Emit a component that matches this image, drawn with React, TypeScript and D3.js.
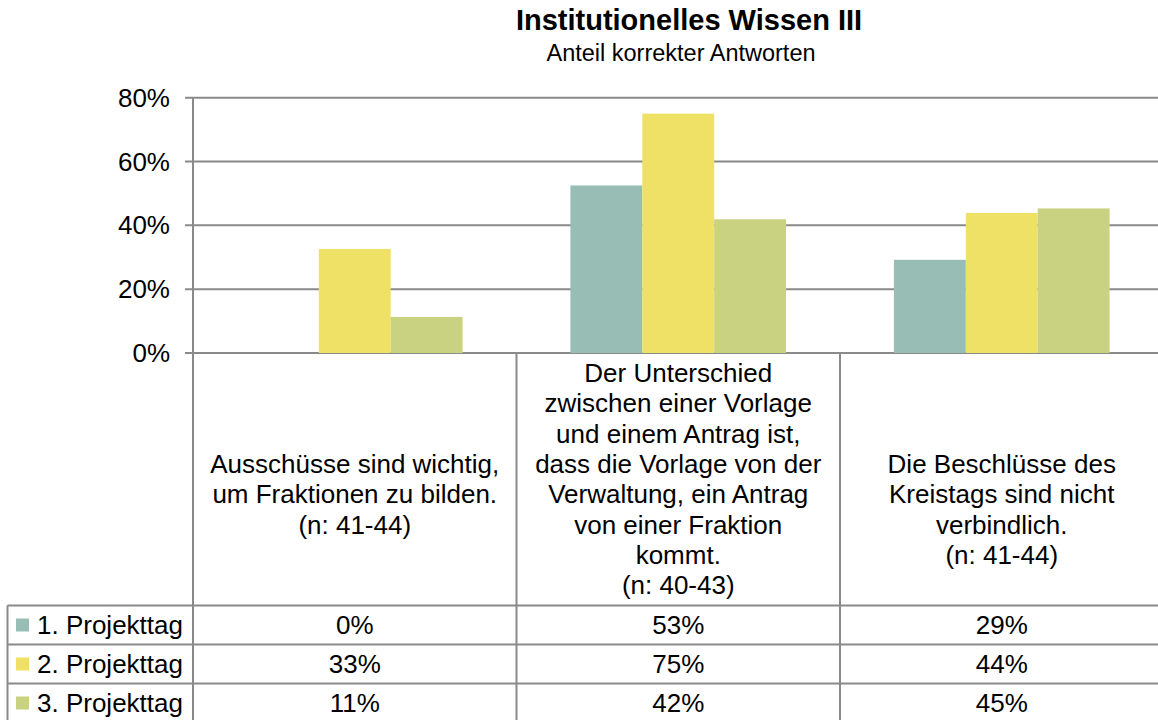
import { useEffect, useRef } from 'react';
import { select, scaleBand, scaleLinear } from 'd3';

// category labels, already broken into lines as in the original
const categoryLines = [
  ['Ausschüsse sind wichtig,', 'um Fraktionen zu bilden.', '(n: 41-44)'],
  [
    'Der Unterschied',
    'zwischen einer Vorlage',
    'und einem Antrag ist,',
    'dass die Vorlage von der',
    'Verwaltung, ein Antrag',
    'von einer Fraktion',
    'kommt.',
    '(n: 40-43)'
  ],
  ['Die Beschlüsse des', 'Kreistags sind nicht', 'verbindlich.', '(n: 41-44)']
];
const categoryKeys = ['c1', 'c2', 'c3'];
// which text row the first label line sits on
const labelStartRow = [3, 0, 3];

const seriesNames = ['1. Projekttag', '2. Projekttag', '3. Projekttag'];
const seriesColors = ['#97bdb4', '#efe066', '#c8d280'];
const day1 = [0, 52.5, 29.2];
const day2 = [32.6, 75, 43.9];
const day3 = [11.3, 41.9, 45.3];
const seriesValues = [day1, day2, day3];

const yTicks = [0, 20, 40, 60, 80];

const W = 1158;
const H = 720;
const FONT = '"Liberation Sans", Arial, sans-serif';
const GRID = '#8a8a8a';

const App = () => {
  const svgRef = useRef(null);

  useEffect(() => {
    const svg = select(svgRef.current);
    svg.selectAll('*').remove();

    const left = 193;
    const right = 1163.5;
    const yScale = scaleLinear().domain([0, 80]).range([353, 97.7]);
    const x0 = scaleBand().domain(categoryKeys).range([left, right]).padding(0);
    const x1 = scaleBand()
      .domain(seriesNames)
      .range([0, x0.bandwidth()])
      .paddingInner(0)
      .paddingOuter(0.75);
    const rowScale = scaleBand().domain(seriesNames).range([605.5, 722.5]);

    // title
    svg
      .append('text')
      .attr('x', 689)
      .attr('y', 30)
      .attr('text-anchor', 'middle')
      .attr('font-family', FONT)
      .attr('font-weight', 'bold')
      .attr('font-size', 29)
      .text('Institutionelles Wissen III');
    svg
      .append('text')
      .attr('x', 681)
      .attr('y', 61)
      .attr('text-anchor', 'middle')
      .attr('font-family', FONT)
      .attr('font-size', 23.5)
      .text('Anteil korrekter Antworten');

    // gridlines + y ticks
    const ticks = svg.append('g');
    ticks
      .selectAll('line')
      .data(yTicks)
      .join('line')
      .attr('x1', left - 8)
      .attr('x2', W)
      .attr('y1', (d) => yScale(d))
      .attr('y2', (d) => yScale(d))
      .attr('stroke', GRID)
      .attr('stroke-width', 2);
    ticks
      .selectAll('text')
      .data(yTicks)
      .join('text')
      .attr('x', 170)
      .attr('y', (d) => yScale(d))
      .attr('dy', '0.35em')
      .attr('text-anchor', 'end')
      .attr('font-family', FONT)
      .attr('font-size', 26)
      .text((d) => `${d}%`);

    // bars
    svg
      .selectAll('.layer')
      .data(seriesNames)
      .join('g')
      .attr('class', 'layer')
      .attr('fill', (_, i) => seriesColors[i])
      .selectAll('rect')
      .data((name, i) =>
        categoryKeys.map((c, j) => ({ c, name, value: seriesValues[i][j] }))
      )
      .join('rect')
      .attr('x', (d) => x0(d.c) + x1(d.name))
      .attr('width', x1.bandwidth())
      .attr('y', (d) => yScale(d.value))
      .attr('height', (d) => yScale(0) - yScale(d.value));

    // table lines
    const grid = svg.append('g').attr('stroke', GRID).attr('stroke-width', 2);
    grid
      .append('line')
      .attr('x1', left)
      .attr('x2', left)
      .attr('y1', yScale(80))
      .attr('y2', H);
    categoryKeys.slice(1).forEach((c) => {
      grid
        .append('line')
        .attr('x1', x0(c))
        .attr('x2', x0(c))
        .attr('y1', yScale(0))
        .attr('y2', H);
    });
    grid
      .append('line')
      .attr('x1', 7.5)
      .attr('x2', 7.5)
      .attr('y1', rowScale.range()[0])
      .attr('y2', H);
    seriesNames.forEach((s) => {
      grid
        .append('line')
        .attr('x1', 7.5)
        .attr('x2', W)
        .attr('y1', rowScale(s))
        .attr('y2', rowScale(s));
    });

    // category labels
    const lineH = 30.3;
    categoryKeys.forEach((c, j) => {
      svg
        .append('text')
        .attr('text-anchor', 'middle')
        .attr('font-family', FONT)
        .attr('font-size', 26)
        .selectAll('tspan')
        .data(categoryLines[j])
        .join('tspan')
        .attr('x', x0(c) + x0.bandwidth() / 2)
        .attr('y', (_, k) => 373 + (labelStartRow[j] + k) * lineH)
        .attr('dy', '0.35em')
        .text((d) => d);
    });

    // legend + values rows
    seriesNames.forEach((s, i) => {
      const cy = rowScale(s) + rowScale.bandwidth() / 2;
      svg
        .append('rect')
        .attr('x', 16)
        .attr('y', cy - 6.5)
        .attr('width', 13)
        .attr('height', 13)
        .attr('fill', seriesColors[i]);
      svg
        .append('text')
        .attr('x', 37)
        .attr('y', cy)
        .attr('dy', '0.35em')
        .attr('font-family', FONT)
        .attr('font-size', 26)
        .text(s);
      categoryKeys.forEach((c, j) => {
        svg
          .append('text')
          .attr('x', x0(c) + x0.bandwidth() / 2)
          .attr('y', cy)
          .attr('dy', '0.35em')
          .attr('text-anchor', 'middle')
          .attr('font-family', FONT)
          .attr('font-size', 26)
          .text(`${Math.round(seriesValues[i][j])}%`);
      });
    });
  }, []);

  return (
    <svg
      ref={svgRef}
      width={W}
      height={H}
      style={{ position: 'absolute', left: 0, top: 0, background: '#fff' }}
    />
  );
};

export default App;
